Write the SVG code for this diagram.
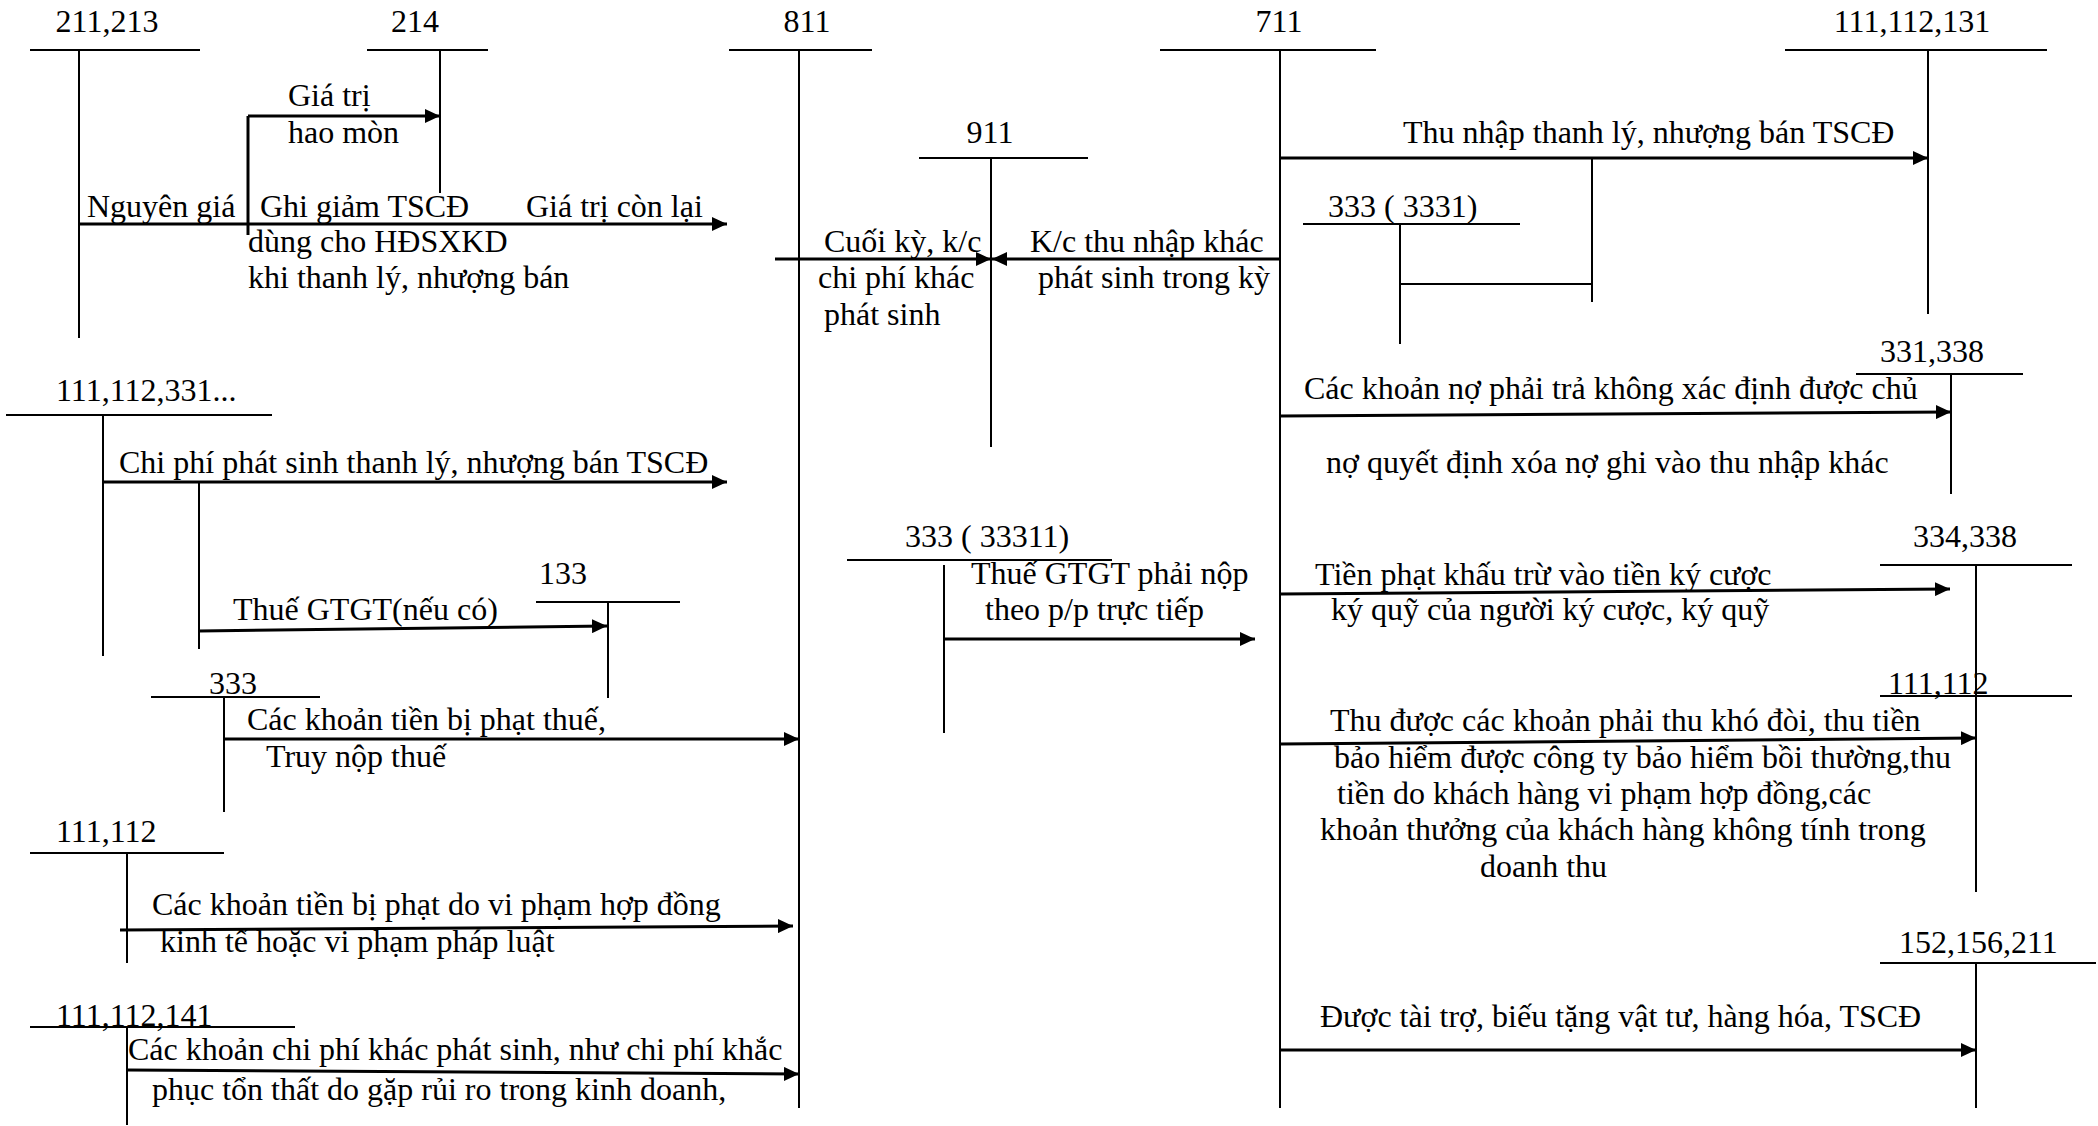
<svg xmlns="http://www.w3.org/2000/svg" width="2098" height="1126" viewBox="0 0 2098 1126">
<style>
text{font-family:"Liberation Serif","Times New Roman",serif;font-size:32px;fill:#000}
.c{text-anchor:middle}
.t{stroke:#000;stroke-width:2;fill:none}
.a{stroke:#000;stroke-width:3;fill:none}
.ar{stroke:#000;stroke-width:3;fill:none;marker-end:url(#ah)}
</style>
<defs>
<marker id="ah" markerUnits="userSpaceOnUse" markerWidth="16" markerHeight="14" refX="15" refY="7" orient="auto">
<path d="M0,0 L15,7 L0,14 z" fill="#000"/>
</marker>
</defs>
<rect width="2098" height="1126" fill="#fff"/>

<g id="acc-211-213"><path class="t" d="M30,50 H200 M79,50 V338"/><text class="c" x="107" y="32">211,213</text></g>
<g id="acc-214"><path class="t" d="M367,50 H488 M440,50 V193"/><text class="c" x="415" y="32">214</text></g>
<g id="acc-811"><path class="t" d="M729,50 H872 M799,50 V1108"/><text class="c" x="807" y="32">811</text></g>
<g id="acc-711"><path class="t" d="M1160,50 H1376 M1280,50 V1108"/><text class="c" x="1279" y="32">711</text></g>
<g id="acc-111-112-131"><path class="t" d="M1785,50 H2047 M1928,50 V314"/><text class="c" x="1912" y="32">111,112,131</text></g>
<g id="acc-911"><path class="t" d="M919,158 H1088 M991,158 V447"/><text class="c" x="990" y="143">911</text></g>
<g id="acc-333-3331"><path class="t" d="M1303,224 H1520 M1400,224 V344"/><text x="1328" y="217">333 ( 3331)</text></g>
<g id="acc-331-338"><path class="t" d="M1856,374 H2023 M1951,374 V494"/><text x="1880" y="362">331,338</text></g>
<g id="acc-111-112-331"><path class="t" d="M6,415 H272 M103,415 V656"/><text x="56" y="401">111,112,331...</text></g>
<g id="acc-333-33311"><path class="t" d="M847,560 H1112 M944,565 V733"/><text x="905" y="547">333 ( 33311)</text></g>
<g id="acc-334-338"><path class="t" d="M1880,565 H2072 M1976,565 V892"/><text x="1913" y="547">334,338</text></g>
<g id="acc-133"><path class="t" d="M536,602 H680 M608,602 V698"/><text x="539" y="584">133</text></g>
<g id="acc-333"><path class="t" d="M151,697 H320 M224,697 V812"/><text x="209" y="694">333</text></g>
<g id="acc-111-112-r"><path class="t" d="M1880,696 H2072"/><text x="1888" y="694">111,112</text></g>
<g id="acc-111-112-l"><path class="t" d="M30,853 H224 M127,853 V963"/><text x="56" y="842">111,112</text></g>
<g id="acc-152-156-211"><path class="t" d="M1880,963 H2096 M1976,963 V1108"/><text x="1899" y="953">152,156,211</text></g>
<g id="acc-111-112-141"><path class="t" d="M30,1027 H295 M127,1027 V1125"/><text x="56" y="1026">111,112,141</text></g>

<g id="connectors">
<path class="ar" d="M248,116 H440"/>
<path class="a" d="M248,116 V235"/>
<path class="ar" d="M79,224 H727"/>
<path class="ar" d="M775,259 H991"/>
<path class="ar" d="M1280,259 H992"/>
<path class="ar" d="M1280,158 H1928"/>
<path class="t" d="M1592,158 V302"/>
<path class="t" d="M1400,284 H1592"/>
<path class="ar" d="M1280,416 L1951,412"/>
<path class="ar" d="M103,482 H727"/>
<path class="t" d="M199,482 V649"/>
<path class="ar" d="M199,631 L607,626"/>
<path class="ar" d="M944,639 H1255"/>
<path class="ar" d="M1280,594 L1950,589"/>
<path class="ar" d="M224,739 H799"/>
<path class="ar" d="M1280,744 L1976,738"/>
<path class="ar" d="M120,930 L793,926"/>
<path class="ar" d="M127,1070 L799,1074"/>
<path class="ar" d="M1280,1050 H1976"/>
</g>

<g id="labels">
<text x="288" y="106">Giá trị</text>
<text x="288" y="143">hao mòn</text>
<text x="87" y="217">Nguyên giá</text>
<text x="260" y="217">Ghi giảm TSCĐ</text>
<text x="526" y="217">Giá trị còn lại</text>
<text x="248" y="252">dùng cho HĐSXKD</text>
<text x="248" y="288">khi thanh lý, nhượng bán</text>
<text x="1403" y="143">Thu nhập thanh lý, nhượng bán TSCĐ</text>
<text x="824" y="252">Cuối kỳ, k/c</text>
<text x="818" y="288">chi phí khác</text>
<text x="824" y="325">phát sinh</text>
<text x="1030" y="252">K/c thu nhập khác</text>
<text x="1038" y="288">phát sinh trong kỳ</text>
<text x="1304" y="399">Các khoản nợ phải trả không xác định được chủ</text>
<text x="1326" y="473">nợ quyết định xóa nợ ghi vào thu nhập khác</text>
<text x="119" y="473">Chi phí phát sinh thanh lý, nhượng bán TSCĐ</text>
<text x="971" y="584">Thuế GTGT phải nộp</text>
<text x="985" y="620">theo p/p trực tiếp</text>
<text x="1315" y="585">Tiền phạt khấu trừ vào tiền ký cược</text>
<text x="1331" y="620">ký quỹ của người ký cược, ký quỹ</text>
<text x="233" y="620">Thuế GTGT(nếu có)</text>
<text x="247" y="730">Các khoản tiền bị phạt thuế,</text>
<text x="266" y="767">Truy nộp thuế</text>
<text x="1330" y="731">Thu được các khoản phải thu khó đòi, thu tiền</text>
<text x="1334" y="768">bảo hiểm được công ty bảo hiểm bồi thường,thu</text>
<text x="1337" y="804">tiền do khách hàng vi phạm hợp đồng,các</text>
<text x="1320" y="840">khoản thưởng của khách hàng không tính trong</text>
<text x="1480" y="877">doanh thu</text>
<text x="152" y="915">Các khoản tiền bị phạt do vi phạm hợp đồng</text>
<text x="160" y="952">kinh tế hoặc vi phạm pháp luật</text>
<text x="1320" y="1027">Được tài trợ, biếu tặng vật tư, hàng hóa, TSCĐ</text>
<text x="128" y="1060">Các khoản chi phí khác phát sinh, như chi phí khắc</text>
<text x="152" y="1100">phục tổn thất do gặp rủi ro trong kinh doanh,</text>
</g>
</svg>
